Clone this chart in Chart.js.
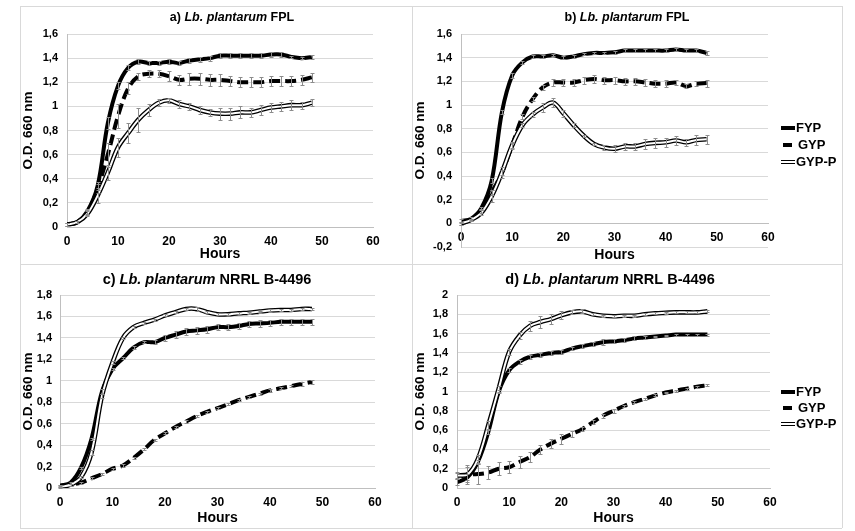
<!DOCTYPE html>
<html>
<head>
<meta charset="utf-8">
<script src="https://cdn.jsdelivr.net/npm/chart.js@4.4.1/dist/chart.umd.min.js"></script>
<style>
  body { margin: 0; background: #fff; }
  #wrap { position: relative; width: 855px; height: 531px; overflow: hidden; }
  canvas, .line { position: absolute; }
  .line { background: #d9d9d9; }
</style>
</head>
<body>
<div id="wrap">
  <div class="line" style="left:20px;top:6px;width:822px;height:1px"></div>
  <div class="line" style="left:20px;top:264px;width:822px;height:1px"></div>
  <div class="line" style="left:20px;top:528px;width:822px;height:1px"></div>
  <div class="line" style="left:20px;top:6px;width:1px;height:522px"></div>
  <div class="line" style="left:412px;top:6px;width:1px;height:522px"></div>
  <div class="line" style="left:842px;top:6px;width:1px;height:522px"></div>
  <canvas id="ca" width="392" height="258" style="left:20px;top:6px"></canvas>
  <canvas id="cb" width="430" height="258" style="left:412px;top:6px"></canvas>
  <canvas id="cc" width="392" height="263" style="left:20px;top:265px"></canvas>
  <canvas id="cd" width="430" height="263" style="left:412px;top:265px"></canvas>
</div>
<script>
const hours = [0, 2, 4, 6, 8, 10, 12, 14, 16, 18, 20, 22, 24, 26, 28, 30, 32, 34, 36, 38, 40, 42, 44, 46, 48]
const seriesNames = ['FYP', 'GYP', 'GYP-P']

// a) Lb. plantarum FPL
const aFYP = [0.02, 0.04, 0.13, 0.34, 0.86, 1.17, 1.32, 1.37, 1.36, 1.36, 1.37, 1.36, 1.38, 1.39, 1.40, 1.42, 1.42, 1.42, 1.42, 1.42, 1.43, 1.43, 1.41, 1.40, 1.41]
const aGYP = [0.02, 0.04, 0.12, 0.32, 0.60, 0.92, 1.15, 1.25, 1.27, 1.27, 1.25, 1.22, 1.23, 1.23, 1.22, 1.22, 1.21, 1.20, 1.20, 1.20, 1.21, 1.21, 1.21, 1.22, 1.24]
const aGYPP = [0.02, 0.04, 0.11, 0.26, 0.45, 0.66, 0.78, 0.89, 0.97, 1.03, 1.05, 1.02, 1.00, 0.97, 0.95, 0.94, 0.94, 0.95, 0.95, 0.97, 0.99, 1.00, 1.01, 1.01, 1.03]
const aFYPerr = [0.01, 0.01, 0.02, 0.03, 0.05, 0.03, 0.02, 0.02, 0.02, 0.02, 0.02, 0.02, 0.02, 0.02, 0.02, 0.02, 0.02, 0.02, 0.02, 0.02, 0.02, 0.02, 0.01, 0.01, 0.02]
const aGYPerr = [0.01, 0.01, 0.02, 0.04, 0.10, 0.10, 0.05, 0.03, 0.03, 0.03, 0.04, 0.04, 0.05, 0.05, 0.05, 0.05, 0.04, 0.04, 0.04, 0.04, 0.04, 0.04, 0.04, 0.04, 0.04]
const aGYPPerr = [0.01, 0.01, 0.02, 0.06, 0.06, 0.08, 0.08, 0.10, 0.05, 0.03, 0.02, 0.03, 0.03, 0.03, 0.03, 0.05, 0.05, 0.05, 0.04, 0.04, 0.04, 0.04, 0.04, 0.03, 0.03]

// b) Lb. plantarum FPL
const bFYP = [0.02, 0.04, 0.13, 0.36, 0.94, 1.25, 1.36, 1.41, 1.41, 1.42, 1.40, 1.41, 1.43, 1.44, 1.44, 1.445, 1.46, 1.46, 1.46, 1.46, 1.46, 1.47, 1.46, 1.46, 1.44]
const bGYP = [0.00, 0.03, 0.10, 0.26, 0.43, 0.66, 0.90, 1.05, 1.15, 1.19, 1.19, 1.19, 1.21, 1.22, 1.21, 1.21, 1.20, 1.20, 1.19, 1.18, 1.18, 1.19, 1.16, 1.18, 1.185]
const bGYPP = [0.00, 0.03, 0.09, 0.23, 0.43, 0.66, 0.83, 0.92, 0.98, 1.02, 0.93, 0.83, 0.74, 0.67, 0.64, 0.63, 0.65, 0.65, 0.67, 0.68, 0.685, 0.70, 0.685, 0.705, 0.71]
const bFYPerr = [0.02, 0.01, 0.01, 0.02, 0.02, 0.02, 0.01, 0.01, 0.01, 0.01, 0.01, 0.01, 0.01, 0.01, 0.01, 0.01, 0.01, 0.01, 0.01, 0.01, 0.01, 0.01, 0.01, 0.01, 0.02]
const bGYPerr = [0.01, 0.01, 0.01, 0.02, 0.02, 0.02, 0.02, 0.02, 0.02, 0.03, 0.03, 0.03, 0.03, 0.03, 0.03, 0.03, 0.03, 0.03, 0.03, 0.03, 0.03, 0.02, 0.02, 0.02, 0.03]
const bGYPPerr = [0.01, 0.01, 0.02, 0.05, 0.05, 0.03, 0.02, 0.02, 0.04, 0.04, 0.03, 0.02, 0.01, 0.01, 0.02, 0.03, 0.03, 0.03, 0.04, 0.04, 0.04, 0.04, 0.03, 0.04, 0.04]

// c) Lb. plantarum NRRL B-4496
const cFYP = [0.02, 0.05, 0.19, 0.46, 0.90, 1.11, 1.21, 1.31, 1.36, 1.36, 1.40, 1.43, 1.46, 1.47, 1.48, 1.50, 1.50, 1.51, 1.53, 1.535, 1.54, 1.55, 1.55, 1.55, 1.55]
const cGYP = [0.02, 0.03, 0.05, 0.09, 0.13, 0.18, 0.21, 0.28, 0.36, 0.45, 0.51, 0.57, 0.62, 0.67, 0.71, 0.745, 0.78, 0.82, 0.85, 0.88, 0.91, 0.93, 0.95, 0.97, 0.99]
const cGYPP = [0.01, 0.03, 0.10, 0.33, 0.86, 1.17, 1.40, 1.50, 1.54, 1.57, 1.61, 1.64, 1.67, 1.67, 1.64, 1.62, 1.62, 1.63, 1.635, 1.645, 1.655, 1.66, 1.66, 1.67, 1.67]
const cFYPerr = [0.01, 0.01, 0.01, 0.01, 0.02, 0.01, 0.01, 0.01, 0.01, 0.02, 0.03, 0.03, 0.03, 0.03, 0.03, 0.03, 0.03, 0.03, 0.03, 0.03, 0.03, 0.03, 0.03, 0.03, 0.03]
const cGYPerr = [0.01, 0.01, 0.01, 0.01, 0.01, 0.01, 0.01, 0.01, 0.01, 0.01, 0.01, 0.01, 0.01, 0.01, 0.01, 0.01, 0.01, 0.01, 0.01, 0.01, 0.01, 0.01, 0.01, 0.02, 0.02]
const cGYPPerr = [0.01, 0.01, 0.01, 0.02, 0.02, 0.01, 0.01, 0.01, 0.01, 0.01, 0.01, 0.01, 0.01, 0.02, 0.01, 0.01, 0.01, 0.01, 0.01, 0.01, 0.01, 0.01, 0.01, 0.01, 0.01]

// d) Lb. plantarum NRRL B-4496
const dFYP = [0.06, 0.11, 0.27, 0.58, 1.00, 1.22, 1.31, 1.36, 1.38, 1.40, 1.41, 1.445, 1.47, 1.49, 1.51, 1.52, 1.53, 1.55, 1.56, 1.57, 1.58, 1.59, 1.59, 1.59, 1.59]
const dGYP = [0.13, 0.14, 0.145, 0.16, 0.20, 0.215, 0.27, 0.32, 0.40, 0.46, 0.51, 0.56, 0.61, 0.68, 0.75, 0.80, 0.85, 0.89, 0.925, 0.96, 0.99, 1.01, 1.03, 1.05, 1.065]
const dGYPP = [0.13, 0.14, 0.30, 0.65, 1.03, 1.41, 1.58, 1.68, 1.72, 1.75, 1.79, 1.82, 1.83, 1.80, 1.785, 1.78, 1.785, 1.785, 1.80, 1.81, 1.815, 1.82, 1.82, 1.82, 1.83]
const dFYPerr = [0.03, 0.03, 0.02, 0.02, 0.02, 0.02, 0.02, 0.02, 0.02, 0.02, 0.02, 0.02, 0.02, 0.02, 0.03, 0.02, 0.02, 0.02, 0.02, 0.01, 0.01, 0.01, 0.01, 0.01, 0.01]
const dGYPerr = [0.03, 0.10, 0.10, 0.07, 0.07, 0.06, 0.06, 0.05, 0.05, 0.05, 0.05, 0.03, 0.02, 0.02, 0.02, 0.02, 0.01, 0.01, 0.01, 0.01, 0.01, 0.01, 0.01, 0.01, 0.01]
const dGYPPerr = [0.04, 0.08, 0.04, 0.04, 0.03, 0.03, 0.04, 0.05, 0.06, 0.05, 0.04, 0.02, 0.02, 0.01, 0.01, 0.01, 0.01, 0.01, 0.01, 0.01, 0.01, 0.01, 0.01, 0.01, 0.01]

const FONT = "'Liberation Sans', Arial, sans-serif"
const GRID = '#d9d9d9'
const AXIS = '#bfbfbf'

const pts = (vals) => hours.map((h, i) => ({ x: h, y: vals[i] }))
const fmt = (v) => String(Math.round(v * 10) / 10).replace('.', ',')

// error bars in grey over the curves
const errorBars = {
  id: 'errorBars',
  afterDatasetsDraw (chart) {
    const { ctx, scales } = chart
    ctx.save()
    ctx.strokeStyle = '#8c8c8c'
    ctx.lineWidth = 1
    chart.data.datasets.forEach((ds, di) => {
      if (!ds.errors) return
      chart.getDatasetMeta(di).data.forEach((p, i) => {
        const v = ds.data[i].y
        const e = ds.errors[i]
        const y1 = Math.round(scales.y.getPixelForValue(v + e)) + 0.5
        const y2 = Math.round(scales.y.getPixelForValue(v - e)) + 0.5
        const x = Math.round(p.x) + 0.5
        ctx.beginPath()
        ctx.moveTo(x, y1); ctx.lineTo(x, y2)
        ctx.moveTo(x - 2, y1); ctx.lineTo(x + 2, y1)
        ctx.moveTo(x - 2, y2); ctx.lineTo(x + 2, y2)
        ctx.stroke()
      })
    })
    ctx.restore()
  }
}

// title with italic species name, plus "Hours" when the x axis sits at y = 0
const panelTitle = {
  id: 'panelTitle',
  afterDraw (chart, args, opts) {
    const { ctx, chartArea } = chart
    const parts = [
      { t: opts.label + ') ', f: `bold ${opts.size}px ${FONT}` },
      { t: 'Lb. plantarum', f: `italic bold ${opts.size}px ${FONT}` },
      { t: ' ' + opts.strain, f: `bold ${opts.size}px ${FONT}` }
    ]
    ctx.save()
    let w = 0
    parts.forEach((p) => { ctx.font = p.f; w += ctx.measureText(p.t).width })
    let x = opts.x - w / 2
    ctx.fillStyle = '#000'
    ctx.textBaseline = 'middle'
    parts.forEach((p) => {
      ctx.font = p.f
      ctx.fillText(p.t, x, opts.y)
      x += ctx.measureText(p.t).width
    })
    if (opts.hoursY) {
      ctx.font = `bold 14px ${FONT}`
      ctx.textAlign = 'center'
      ctx.fillText('Hours', (chartArea.left + chartArea.right) / 2, opts.hoursY)
    }
    ctx.restore()
  }
}

// legend on the right side for b) and d)
const sideLegend = {
  id: 'sideLegend',
  afterDraw (chart, args, opts) {
    if (!opts.show) return
    const { ctx } = chart
    ctx.save()
    ctx.font = `bold 13px ${FONT}`
    ctx.textBaseline = 'middle'
    ctx.fillStyle = '#000'
    seriesNames.forEach((name, i) => {
      const y = opts.y + i * opts.dy
      const x = opts.x
      ctx.strokeStyle = '#000'
      ctx.lineWidth = 4
      ctx.beginPath()
      if (i === 1) { ctx.moveTo(x + 2, y); ctx.lineTo(x + 11, y) } else { ctx.moveTo(x, y); ctx.lineTo(x + 14, y) }
      ctx.stroke()
      if (i === 2) {
        ctx.strokeStyle = '#fff'
        ctx.lineWidth = 2
        ctx.beginPath(); ctx.moveTo(x, y); ctx.lineTo(x + 14, y); ctx.stroke()
      }
      ctx.fillText(name, x + (i === 1 ? 17 : 15), y)
    })
    ctx.restore()
  }
}

function makeChart (id, cfg) {
  const datasets = [
    { data: pts(cfg.gyppVals), borderColor: '#fff', borderWidth: 2, order: 0 },
    { data: pts(cfg.gyppVals), borderColor: '#000', borderWidth: 4.6, order: 1, errors: cfg.gyppErr },
    { data: pts(cfg.fypVals), borderColor: '#000', borderWidth: 4, order: 2, errors: cfg.fypErr },
    { data: pts(cfg.gypVals), borderColor: '#000', borderWidth: 4, borderDash: [11, 5], order: 3, errors: cfg.gypErr }
  ]
  return new Chart(document.getElementById(id), {
    type: 'line',
    data: { datasets },
    plugins: [errorBars, panelTitle, sideLegend],
    options: {
      responsive: false,
      animation: false,
      devicePixelRatio: 1,
      elements: { point: { radius: 0 }, line: { tension: 0.35, borderCapStyle: 'butt' } },
      layout: { padding: cfg.padding },
      plugins: {
        legend: { display: false },
        tooltip: { enabled: false },
        panelTitle: cfg.title,
        sideLegend: cfg.legend
      },
      scales: {
        x: {
          type: 'linear',
          min: 0,
          max: 60,
          position: cfg.xPos,
          afterFit: (s) => { s.height = cfg.xHeight },
          grid: { display: false, drawTicks: false },
          border: { color: AXIS },
          ticks: { stepSize: 10, padding: 7, color: '#000', font: { family: FONT, size: 12, weight: 'bold' } },
          title: { display: !cfg.title.hoursY, text: 'Hours', color: '#000', padding: { top: 2, bottom: 1 }, font: { family: FONT, size: 14, weight: 'bold' } }
        },
        y: {
          min: cfg.yMin,
          max: cfg.yMax,
          afterFit: (s) => { s.width = cfg.yWidth },
          grid: { color: GRID, drawTicks: false },
          border: { color: AXIS },
          ticks: { stepSize: 0.2, padding: cfg.yPad, color: '#000', callback: fmt, font: { family: FONT, size: 11, weight: 'bold' } },
          title: { display: true, text: 'O.D. 660 nm', color: '#000', padding: { top: 0, bottom: 0 }, font: { family: FONT, size: 13.5, weight: 'bold' } }
        }
      }
    }
  })
}

makeChart('ca', {
  fypVals: aFYP, gypVals: aGYP, gyppVals: aGYPP,
  fypErr: aFYPerr, gypErr: aGYPerr, gyppErr: aGYPPerr,
  yMin: 0, yMax: 1.6, yWidth: 47, yPad: 9, xHeight: 37, xPos: 'bottom',
  padding: { top: 28, right: 39, left: 0, bottom: 0 },
  title: { label: 'a', strain: 'FPL', x: 212, y: 12, size: 12.5 },
  legend: { show: false }
})
makeChart('cb', {
  fypVals: bFYP, gypVals: bGYP, gyppVals: bGYPP,
  fypErr: bFYPerr, gypErr: bGYPerr, gyppErr: bGYPPerr,
  yMin: -0.2, yMax: 1.6, yWidth: 49, yPad: 9, xHeight: 0, xPos: { y: 0 },
  padding: { top: 28, right: 74, left: 0, bottom: 17 },
  title: { label: 'b', strain: 'FPL', x: 215, y: 12, size: 12.5, hoursY: 249 },
  legend: { show: true, x: 369, y: 122, dy: 17 }
})
makeChart('cc', {
  fypVals: cFYP, gypVals: cGYP, gyppVals: cGYPP,
  fypErr: cFYPerr, gypErr: cGYPerr, gyppErr: cGYPPerr,
  yMin: 0, yMax: 1.8, yWidth: 40, yPad: 8, xHeight: 40, xPos: 'bottom',
  padding: { top: 30, right: 37, left: 0, bottom: 0 },
  title: { label: 'c', strain: 'NRRL B-4496', x: 187, y: 15, size: 14.5 },
  legend: { show: false }
})
makeChart('cd', {
  fypVals: dFYP, gypVals: dGYP, gyppVals: dGYPP,
  fypErr: dFYPerr, gypErr: dGYPerr, gyppErr: dGYPPerr,
  yMin: 0, yMax: 2, yWidth: 45, yPad: 9, xHeight: 40, xPos: 'bottom',
  padding: { top: 30, right: 72, left: 0, bottom: 0 },
  title: { label: 'd', strain: 'NRRL B-4496', x: 198, y: 15, size: 14.5 },
  legend: { show: true, x: 369, y: 127, dy: 16 }
})
</script>
</body>
</html>
